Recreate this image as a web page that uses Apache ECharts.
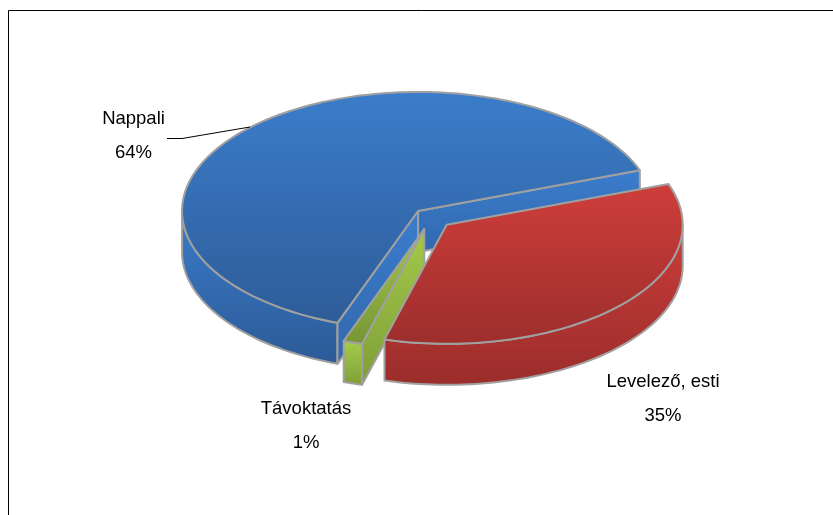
<!DOCTYPE html>
<html>
<head>
<meta charset="utf-8">
<style>html,body{margin:0;padding:0;background:#fff;overflow:hidden}#c{width:833px;height:515px}</style>
<script src="https://cdn.jsdelivr.net/npm/echarts@6/dist/echarts.min.js"></script>
</head>
<body>
<div id="c"></div>
<script>
var categories = ['Nappali', 'Távoktatás', 'Levelező, esti'];
var shares = [63.9, 1.3, 34.8];

var START = 20, CX = 431.4, CY = 217.7, RX = 236, RY = 119, DEPTH = 41;
var EXPLODE = [0.08, 0.1, 0.088];
var STROKE = '#a0a0a0';
var LABEL_POS = [[133.5, 136], [306, 426], [663, 399]];

function grad(a, b) {
  return new echarts.graphic.LinearGradient(0, 0, 0, 1, [{offset: 0, color: a}, {offset: 1, color: b}]);
}
var FILL = [
  {top: ['#3b7dcb', '#2e5c98'], side: ['#3b7ccb', '#2c5a96'], wall: ['#3b7dcd', '#3168ad']},
  {top: ['#a3c94a', '#779535'], side: ['#a6cd4a', '#7f9e38'], wall: ['#a3c94a', '#7f9e38']},
  {top: ['#cf3e3b', '#9c2e2c'], side: ['#cb3d3a', '#9a2d2b'], wall: ['#cf3e3b', '#9c2e2c']}
];

var total = shares.reduce(function (a, b) { return a + b; }, 0);
var angles = [], acc = START;
shares.forEach(function (v) {
  var s = v / total * 360;
  angles.push([acc, acc + s]);
  acc += s;
});

function arcPts(c, a0, a1, dy) {
  var pts = [], n = Math.max(2, Math.ceil(Math.abs(a1 - a0) / 1.5));
  for (var i = 0; i <= n; i++) {
    var t = (a0 + (a1 - a0) * i / n) * Math.PI / 180;
    pts.push([c[0] + RX * Math.cos(t), c[1] - RY * Math.sin(t) + dy]);
  }
  return pts;
}
function poly(points, colors) {
  return {
    type: 'polygon',
    shape: {points: points},
    style: {fill: grad(colors[0], colors[1]), stroke: STROKE, lineWidth: 2, lineJoin: 'round'}
  };
}
function wall(c, a, colors) {
  var e = arcPts(c, a, a, 0)[0];
  return poly([[c[0], c[1]], e, [e[0], e[1] + DEPTH], [c[0], c[1] + DEPTH]], colors);
}
function sidePoly(c, a0, a1, colors) {
  return poly(arcPts(c, a0, a1, 0).concat(arcPts(c, a1, a0, DEPTH)), colors);
}

function renderItem(params) {
  var i = params.dataIndex, a = angles[i], f = FILL[i];
  var mid = (a[0] + a[1]) / 2 * Math.PI / 180;
  var c = [CX + EXPLODE[i] * RX * Math.cos(mid), CY - EXPLODE[i] * RY * Math.sin(mid)];
  var kids = [];
  if (i === 0) {
    kids.push(wall(c, a[0], f.wall));
    kids.push(sidePoly(c, 180, a[1], f.side));
    kids.push(wall(c, a[1], f.wall));
  } else if (i === 1) {
    kids.push(wall(c, a[1], f.wall));
    kids.push(sidePoly(c, a[0], a[1], f.side));
  } else {
    kids.push(sidePoly(c, a[0], 360, f.side));
  }
  kids.push(poly([[c[0], c[1]]].concat(arcPts(c, a[0], a[1], 0)), f.top));
  kids.push({
    type: 'text',
    z2: 10,
    style: {
      x: LABEL_POS[i][0], y: LABEL_POS[i][1],
      text: categories[i] + '\n' + Math.round(shares[i] / total * 100) + '%',
      align: 'center', verticalAlign: 'middle',
      font: '18.5px "Liberation Sans", Arial, sans-serif',
      lineHeight: 34, fill: '#000'
    }
  });
  return {type: 'group', children: kids};
}

var chart = echarts.init(document.getElementById('c'), null, {renderer: 'canvas'});
chart.setOption({
  animation: false,
  backgroundColor: '#fff',
  graphic: [
    {type: 'rect', z: 0, shape: {x: 8.5, y: 10.5, width: 900, height: 600},
      style: {fill: 'none', stroke: '#000', lineWidth: 1}},
    {type: 'polyline', z: 10, shape: {points: [[167, 138.5], [182, 138.5], [250, 127]]},
      style: {fill: 'none', stroke: '#000', lineWidth: 1}}
  ],
  series: [{
    type: 'custom',
    coordinateSystem: 'none',
    silent: true,
    renderItem: renderItem,
    data: shares.map(function (v, i) { return {name: categories[i], value: v}; })
  }]
});
</script>
</body>
</html>
